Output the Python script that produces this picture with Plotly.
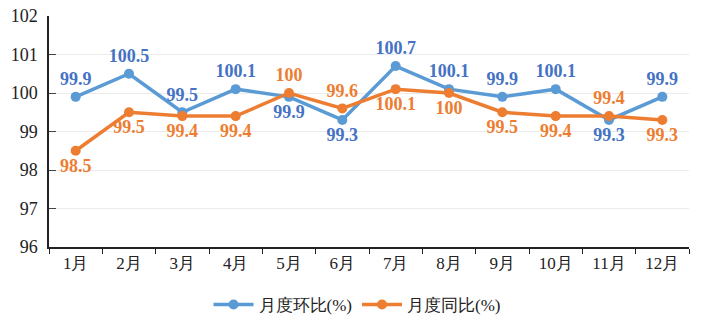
import plotly.graph_objects as go

months = ["1月", "2月", "3月", "4月", "5月", "6月", "7月", "8月", "9月", "10月", "11月", "12月"]
mom = [99.9, 100.5, 99.5, 100.1, 99.9, 99.3, 100.7, 100.1, 99.9, 100.1, 99.3, 99.9]
yoy = [98.5, 99.5, 99.4, 99.4, 100, 99.6, 100.1, 100, 99.5, 99.4, 99.4, 99.3]
mom_name = "月度环比(%)"
yoy_name = "月度同比(%)"
y_ticks = [96, 97, 98, 99, 100, 101, 102]

mom_pos = ["top center"] * 12
for i in (4, 5, 10):
    mom_pos[i] = "bottom center"
yoy_pos = ["bottom center"] * 12
for i in (4, 5, 10):
    yoy_pos[i] = "top center"

FONT = "Liberation Serif"

fig = go.Figure()
fig.add_trace(go.Scatter(
    x=months, y=mom, name=mom_name, mode="lines+markers+text",
    line=dict(color="#5B9BD5", width=3.5), marker=dict(size=10, color="#5B9BD5"),
    text=[str(v) for v in mom], textposition=mom_pos,
    textfont=dict(family=FONT, size=18, color="#4472C4", weight="bold"),
))
fig.add_trace(go.Scatter(
    x=months, y=yoy, name=yoy_name, mode="lines+markers+text",
    line=dict(color="#ED7D31", width=3.5), marker=dict(size=10, color="#ED7D31"),
    text=[str(v) for v in yoy], textposition=yoy_pos,
    textfont=dict(family=FONT, size=18, color="#ED7D31", weight="bold"),
))

fig.update_layout(
    width=707, height=322,
    margin=dict(l=49, r=18, t=16, b=75, autoexpand=False),
    paper_bgcolor="white", plot_bgcolor="white",
    font=dict(family=FONT, size=16, color="#222"),
    showlegend=True,
    legend=dict(orientation="h", xref="container", yref="container",
                x=0.505, xanchor="center", y=0.053, yanchor="middle",
                font=dict(family=FONT, size=17, color="#222"), itemwidth=40, traceorder="normal"),
    xaxis=dict(
        type="category", showline=True, linecolor="#222", linewidth=1.5,
        ticks="outside", ticklen=5, tickcolor="#222", tickson="boundaries",
        showgrid=False, tickfont=dict(family=FONT, size=17, color="#222"),
        range=[-0.5, 11.5],
    ),
    yaxis=dict(
        range=[96, 102], tickvals=y_ticks, showline=True, linecolor="#222", linewidth=1.5,
        showgrid=True, gridcolor="#EBEBEB", gridwidth=1, zeroline=False,
        ticks="inside", ticklen=7, tickcolor="#444",
        tickfont=dict(family=FONT, size=18, color="#222"), ticklabelstandoff=6,
    ),
)

fig.write_html("out.html")
